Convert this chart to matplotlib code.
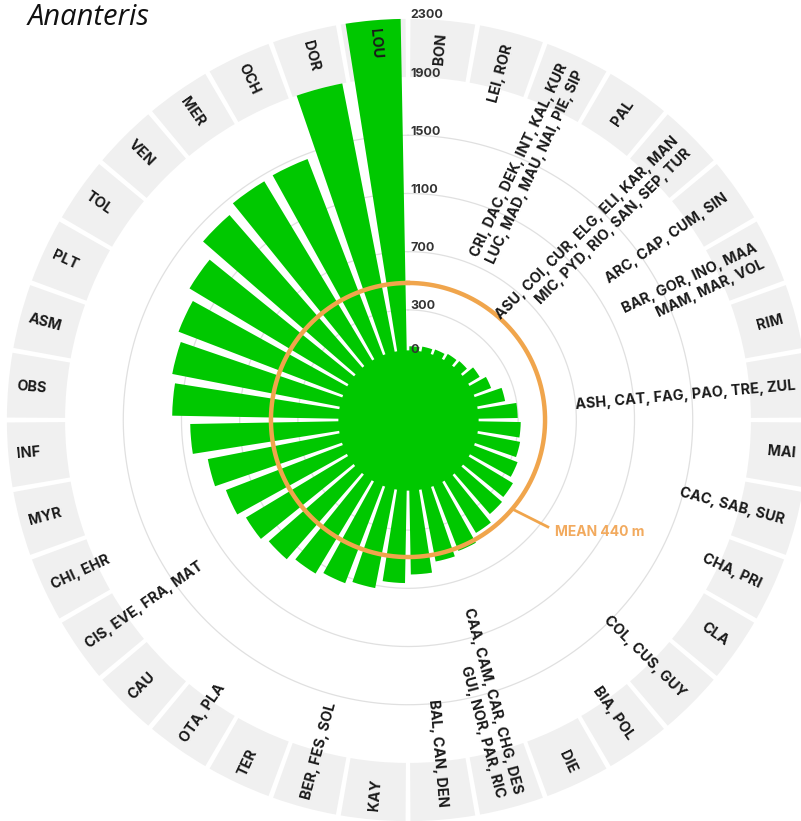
import numpy as np
import matplotlib
matplotlib.use("Agg")
import matplotlib.pyplot as plt

plt.rcParams['font.family'] = ['Inter', 'DejaVu Sans']

# localities, clockwise from the top
labels = ["BON", "LEI, ROR",
          "CRI, DAC, DEK, INT, KAL, KUR\nLUC, MAD, MAU, NAI, PIE, SIP",
          "PAL",
          "ASU, COI, CUR, ELG, ELI, KAR, MAN\nMIC, PYD, RIO, SAN, SEP, TUR",
          "ARC, CAP, CUM, SIN",
          "BAR, GOR, INO, MAA\nMAM, MAR, VOL",
          "RIM", "ASH, CAT, FAG, PAO, TRE, ZUL", "MAI", "CAC, SAB, SUR",
          "CHA, PRI", "CLA", "COL, CUS, GUY", "BIA, POL", "DIE",
          "CAA, CAM, CAR, CHG, DES\nGUI, NOR, PAR, RIC",
          "BAL, CAN, DEN", "KAY", "BER, FES, SOL", "TER", "OTA, PLA", "CAU",
          "CIS, EVE, FRA, MAT", "CHI, EHR", "MYR", "INF", "OBS", "ASM", "PLT",
          "TOL", "VEN", "MER", "OCH", "DOR", "LOU"]
elevation = [50, 57, 62, 73, 80, 118, 155, 223, 297, 318, 328, 350, 385, 400,
             449, 507, 534, 605, 664, 720, 745, 775, 812, 843, 884, 945, 1040,
             1164, 1194, 1233, 1296, 1411, 1458, 1465, 1900, 2300]
ticks = [0, 300, 700, 1100, 1500, 1900, 2300]
grid_vals = [300, 700, 1100, 1500]
mean_ring = 485
mean_text = "MEAN 440 m"

GREEN = "#00c800"
ORANGE = "#f0a54c"
OFF = 457          # empty centre, in metres of the radial scale
RMAX = 2818

fig = plt.figure(figsize=(8.01, 8.21), dpi=100)
ax = fig.add_axes([-2 / 801, -9 / 821, 820 / 801, 820 / 821], projection="polar")
ax.set_theta_zero_location("N")
ax.set_theta_direction(-1)
ax.set_ylim(0, RMAX)
ax.axis("off")

n = len(labels)
theta = np.deg2rad(5 + 10 * np.arange(n))
slot = np.deg2rad(10)

# grey label tiles between 1900 and 2300
ax.bar(theta, 400, bottom=OFF + 1900, width=slot * 0.93, color="#f0f0f0",
       linewidth=0, zorder=0)

# grid rings
tt = np.linspace(0, 2 * np.pi, 500)
for g in grid_vals:
    ax.plot(tt, np.full_like(tt, OFF + g), color="#e0e0e0", lw=0.9, zorder=1)

# bars + solid centre
ax.bar(theta, OFF + np.array(elevation), bottom=0, width=slot * 0.79,
       color=GREEN, linewidth=0, zorder=2)
ax.fill_between(tt, 0, OFF + 25, color=GREEN, linewidth=0, zorder=2)

# mean ring
ax.plot(tt, np.full_like(tt, OFF + mean_ring), color=ORANGE, lw=3.2, zorder=3)
ax.plot(np.deg2rad([130.5, 127.4]), [OFF + mean_ring, OFF + 753],
        color=ORANGE, lw=2, zorder=3)
ax.text(np.deg2rad(127.3), OFF + 815, mean_text, color="#f2aa5e",
        fontsize=10, fontweight="bold", ha="left", va="center", zorder=4)

# radial tick labels
for t in ticks:
    ax.annotate(str(t), xy=(0, OFF + t), xytext=(2, 2.5),
                textcoords="offset points", ha="left", va="center",
                fontsize=9, fontweight="bold", color="#333333", zorder=4)

# locality labels
for ang, lab in zip(np.rad2deg(theta), labels):
    if ang < 180:
        rot, ha, r = 90 - ang, "right", OFF + 2215
    else:
        rot, ha, r = 270 - ang, "left", OFF + 2240
    ax.text(np.deg2rad(ang), r, lab, rotation=rot, rotation_mode="anchor",
            ha=ha, va="center", multialignment="right" if ha == "right" else "left",
            fontsize=10.4, fontweight="bold", color="#1a1a1a", linespacing=1.3,
            zorder=5)

fig.text(28 / 801, 1 - 25 / 821, "Ananteris", fontsize=21, style="italic",
         family=["Open Sans", "DejaVu Sans"], va="baseline", ha="left",
         color="#111111")

fig.savefig("out.png", dpi=100)
